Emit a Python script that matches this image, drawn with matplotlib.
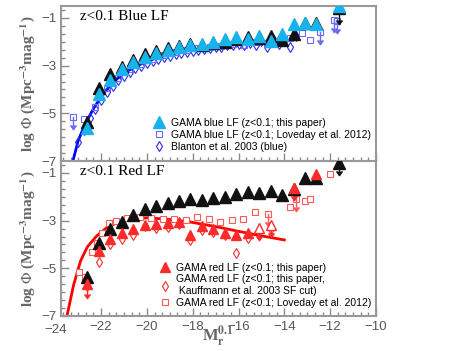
import numpy as np
import matplotlib
matplotlib.use('Agg')
import matplotlib.pyplot as plt
from matplotlib.ticker import MultipleLocator
from matplotlib.transforms import blended_transform_factory

plt.rcParams['font.family'] = ['Liberation Sans', 'DejaVu Sans']
plt.rcParams['mathtext.fontset'] = 'stix'

# --- datos ---
# LF total (triangulos negros), igual en ambos paneles
mag = [-22.6, -22.1, -21.6, -21.1, -20.6, -20.1, -19.6, -19.1, -18.6, -18.1, -17.6,
       -17.1, -16.6, -16.1, -15.6, -15.1, -14.6, -14.1, -13.6, -13.1, -12.6]
total_lf = [-5.36, -3.94, -3.35, -3.06, -2.76, -2.51, -2.39, -2.26, -2.18, -2.09, -2.14,
            -2.05, -2.01, -1.88, -1.80, -1.84, -1.76, -1.93, -1.67, -1.21, -1.21]
total_last_x = [-11.6]
total_last_y = [-0.58]

# LF azul (este paper)
blue_lf = [-5.62, -4.19, -3.60, -3.14, -2.85, -2.64, -2.47, -2.34, -2.22, -2.14, -2.09,
           -2.01, -1.88, -1.80, -1.88, -1.76, -1.97, -1.67, -1.25, -1.21, -1.25]
blue_last_x = [-11.6]
blue_last_y = [-0.52]

# Loveday 2012 azul
lov_blue_x = [-22.75, -22.25, -21.75, -21.25, -20.75, -20.25, -19.75, -19.25, -18.75,
              -18.25, -17.75, -17.25, -16.75, -16.25, -15.75, -15.25, -14.75, -14.25,
              -13.75, -13.25, -12.9]
lov_blue_y = [-5.25, -4.75, -3.95, -3.5, -3.15, -2.92, -2.72, -2.57, -2.44,
              -2.36, -2.28, -2.22, -2.16, -2.1, -2.12, -2.0, -2.08, -1.98,
              -1.85, -1.65, -1.93]
lov_blue_lim_x = [-23.23, -12.45, -11.85, -11.7]
lov_blue_lim_y = [-5.15, -1.6, -1.1, -1.15]

# Blanton et al. 2003 (azul)
blanton_x = [-23.0, -22.75, -22.5, -22.25, -22.0, -21.75, -21.5, -21.25, -21.0, -20.75,
             -20.5, -20.25, -20.0, -19.75, -19.5, -19.25, -19.0, -18.75, -18.5, -18.25,
             -18.0, -17.75, -17.5, -17.25, -17.0, -16.75, -16.5, -16.25, -16.0, -15.75,
             -15.5, -15.25, -15.0, -14.75, -14.5, -14.25, -14.0, -13.75, -13.5]
blanton_y = [-6.2, -5.7, -5.2, -4.8, -4.45, -4.1, -3.85, -3.6, -3.42, -3.25,
             -3.1, -3.0, -2.9, -2.8, -2.72, -2.65, -2.58, -2.52, -2.46, -2.42,
             -2.37, -2.33, -2.3, -2.25, -2.22, -2.2, -2.15, -2.14, -2.1, -2.12,
             -2.05, -2.15, -1.95, -2.2, -1.9, -2.1, -1.95, -2.2, -1.75]

# ajuste Schechter azul
fit_blue_x = [-23.23, -23.0, -22.7, -22.3, -21.8, -21.3, -20.8, -20.2, -19.5, -18.5,
              -17.5, -16.5, -15.5, -14.5, -14.0]
fit_blue_y = [-7.0, -6.15, -5.45, -4.75, -4.05, -3.55, -3.2, -2.9, -2.65, -2.42,
              -2.27, -2.15, -2.05, -1.97, -1.93]

# LF roja (este paper)
red_x = [-22.6, -22.1, -21.6, -21.1, -20.6, -20.1, -19.6, -19.1, -18.6, -18.1, -17.6,
         -17.1, -16.6, -16.1, -15.6, -12.6]
red_lf = [-5.66, -4.27, -3.77, -3.52, -3.35, -3.18, -3.14, -3.10, -3.05, -3.60, -3.23,
          -3.35, -3.52, -3.60, -3.52, -1.05]
red_open_x = [-15.1, -14.6]
red_open_y = [-3.31, -3.18]
red_lim_x = [-13.6]
red_lim_y = [-1.63]

# LF roja, corte SF de Kauffmann et al. 2003
kauff_x = [-22.6, -22.1, -21.6, -21.1, -20.6, -20.1, -19.6, -19.1, -18.6, -18.1, -17.6,
           -17.1, -16.6, -16.1, -15.6, -15.1, -14.6]
kauff_y = [-5.75, -4.73, -3.98, -3.77, -3.60, -3.23, -3.31, -3.27, -3.14, -3.81, -3.39,
           -3.48, -3.60, -4.36, -3.73, -3.45, -3.35]

# Loveday 2012 roja
lov_red_x = [-22.95, -22.7, -22.4, -22.2, -21.95, -21.65, -21.35, -20.85, -20.3, -19.8,
             -19.3, -18.8, -18.3, -17.8, -17.3, -16.8, -16.3, -15.8, -15.3, -13.75,
             -13.1, -12.9, -12.0]
lov_red_y = [-5.15, -5.35, -4.32, -3.94, -3.52, -3.10, -3.02, -2.89, -2.85, -2.89,
             -2.93, -2.93, -2.97, -2.85, -2.93, -3.06, -2.97, -2.93, -2.64, -2.43,
             -2.18, -2.1, -1.05]
lov_red_lim_x = [-14.7, -13.5]
lov_red_lim_y = [-2.72, -2.1]

# ajuste Schechter rojo
fit_red_x = [-23.49, -23.2, -22.9, -22.6, -22.2, -21.7, -21.0, -20.0, -19.0, -18.1,
             -17.0, -16.0, -15.0, -14.0]
fit_red_y = [-7.0, -5.7, -4.7, -4.1, -3.65, -3.25, -2.98, -2.88, -2.95, -3.06,
             -3.25, -3.45, -3.64, -3.81]

negro = '#111111'
cian = '#16b4ea'
azul = '#6a6aff'
azul_osc = '#2a2aee'
rojo = '#ff2a2a'
rojo_cl = '#ff5a5a'
gris = '#8a8a8a'


def flechas(ax, x, y, color, largo=0.5):
    # limites superiores: linea hacia abajo y punta
    for xi, yi in zip(x, y):
        ax.plot([xi, xi], [yi, yi - largo], color=color, lw=1, zorder=2)
        ax.plot(xi, yi - largo, marker=7, color=color, ms=4, zorder=2)


fig = plt.figure(figsize=(4.67, 3.51), dpi=100)
ax1 = fig.add_axes([61 / 467, 1 - 161 / 351, 315 / 467, 155 / 351])
ax2 = fig.add_axes([61 / 467, 1 - 316 / 351, 315 / 467, 155 / 351], sharex=ax1)

# ---- panel azul ----
ax1.plot(fit_blue_x, fit_blue_y, color='#0000ff', lw=2, zorder=1)
ax1.plot(blanton_x, blanton_y, 'd', mfc='none', mec=azul_osc, ms=5, mew=0.8,
         label='Blanton et al. 2003 (blue)', zorder=2)
ax1.plot(lov_blue_x, lov_blue_y, 's', mfc='none', mec=azul, ms=5, mew=0.8,
         label='GAMA blue LF (z<0.1; Loveday et al. 2012)', zorder=2)
ax1.plot(lov_blue_lim_x, lov_blue_lim_y, 's', mfc='none', mec=azul, ms=5, mew=0.8, zorder=2)
flechas(ax1, lov_blue_lim_x, lov_blue_lim_y, azul)
ax1.plot(mag + total_last_x, total_lf + total_last_y, '^', color=negro, ms=8, zorder=3)
ax1.plot(mag, blue_lf, '^', color=cian, ms=8, zorder=4,
         label='GAMA blue LF (z<0.1; this paper)')
ax1.plot(blue_last_x, blue_last_y, '^', color=cian, ms=8, zorder=4)
flechas(ax1, blue_last_x, blue_last_y, negro, 0.75)

# ---- panel rojo ----
ax2.plot(fit_red_x, fit_red_y, color='#ff0000', lw=2, zorder=1)
ax2.plot(mag + total_last_x, total_lf + total_last_y, '^', color=negro, ms=8, zorder=3)
flechas(ax2, total_last_x, total_last_y, negro, 0.5)
ax2.plot(lov_red_x, lov_red_y, 's', mfc='white', mec=rojo_cl, ms=5, mew=0.8, zorder=2,
         label='GAMA red LF (z<0.1; Loveday et al. 2012)')
ax2.plot(lov_red_lim_x, lov_red_lim_y, 's', mfc='white', mec=rojo_cl, ms=5, mew=0.8, zorder=2)
flechas(ax2, lov_red_lim_x, lov_red_lim_y, rojo_cl)
ax2.plot(kauff_x, kauff_y, 'd', mfc='white', mec=rojo, ms=5, mew=0.8, zorder=2,
         label='GAMA red LF (z<0.1; this paper,\n Kauffmann et al. 2003 SF cut)')
ax2.plot(red_x, red_lf, '^', color=rojo, ms=7.5, zorder=4,
         label='GAMA red LF (z<0.1; this paper)')
ax2.plot(red_open_x, red_open_y, '^', mfc='white', mec=rojo, ms=7, mew=1, zorder=4)
flechas(ax2, red_open_x, red_open_y, rojo)
ax2.plot(red_lim_x, red_lim_y, '^', color=rojo, ms=7.5, zorder=4)
flechas(ax2, red_lim_x, red_lim_y, rojo)
flechas(ax2, [-22.6], [-5.66], rojo, 0.6)

# ---- ejes ----
for ax in (ax1, ax2):
    ax.set_xlim(-23.75, -10)
    ax.set_ylim(-7, -0.5)
    ax.xaxis.set_major_locator(MultipleLocator(2))
    ax.xaxis.set_minor_locator(MultipleLocator(1 / 3))
    ax.yaxis.set_major_locator(MultipleLocator(2))
    ax.yaxis.set_minor_locator(MultipleLocator(1 / 3))
    ax.tick_params(which='both', direction='in', top=False, right=False,
                   color=gris, labelcolor='#555555', labelsize=9.5, width=1)
    ax.tick_params(which='major', length=6)
    ax.tick_params(which='minor', length=3)
    for s in ax.spines.values():
        s.set_color('#999999')
        s.set_linewidth(1.5)
    ax.set_ylabel(r'log $\Phi$ (Mpc$^{\mathbf{-3}}$mag$^{\mathbf{-1}}$)',
                  family='Liberation Serif', fontweight='bold', color='#666666',
                  fontsize=11, labelpad=3)
ax1.tick_params(labelbottom=False)
ax1.set_yticks([-1, -3, -5, -7])
ax2.set_yticks([-1, -3, -5, -7])
ax2.set_xticks([-22, -20, -18, -16, -14, -12, -10])

trans = blended_transform_factory(ax2.transData, ax2.transAxes)
ax2.text(-24, -0.05, '\u221224', transform=trans, ha='center', va='top',
         fontsize=9.5, color='#555555')

ax1.text(0.06, 0.93, 'z<0.1 Blue LF', transform=ax1.transAxes, family='Liberation Serif',
         fontsize=11, va='center')
ax2.text(0.06, 0.93, 'z<0.1 Red LF', transform=ax2.transAxes, family='Liberation Serif',
         fontsize=11, va='center')

h, l = ax1.get_legend_handles_labels()
orden = [2, 1, 0]
ax1.legend([h[i] for i in orden], [l[i] for i in orden], loc='upper left',
           bbox_to_anchor=(0.282, 0.305), frameon=False, fontsize=7.5, handlelength=1,
           handletextpad=0.6, labelspacing=0.2, borderaxespad=0)
h, l = ax2.get_legend_handles_labels()
orden = [2, 1, 0]
ax2.legend([h[i] for i in orden], [l[i] for i in orden], loc='upper left',
           bbox_to_anchor=(0.30, 0.37), frameon=False, fontsize=7.5, handlelength=1,
           handletextpad=0.6, labelspacing=0.15, borderaxespad=0)

fig.text(218 / 467, 1 - 336 / 351, r'M$_{\mathbf{r}}^{\mathbf{0.1}}$', family='Liberation Serif',
         fontweight='bold', color='#666666', fontsize=12, ha='center', va='center')

fig.savefig('out.png', dpi=100)
